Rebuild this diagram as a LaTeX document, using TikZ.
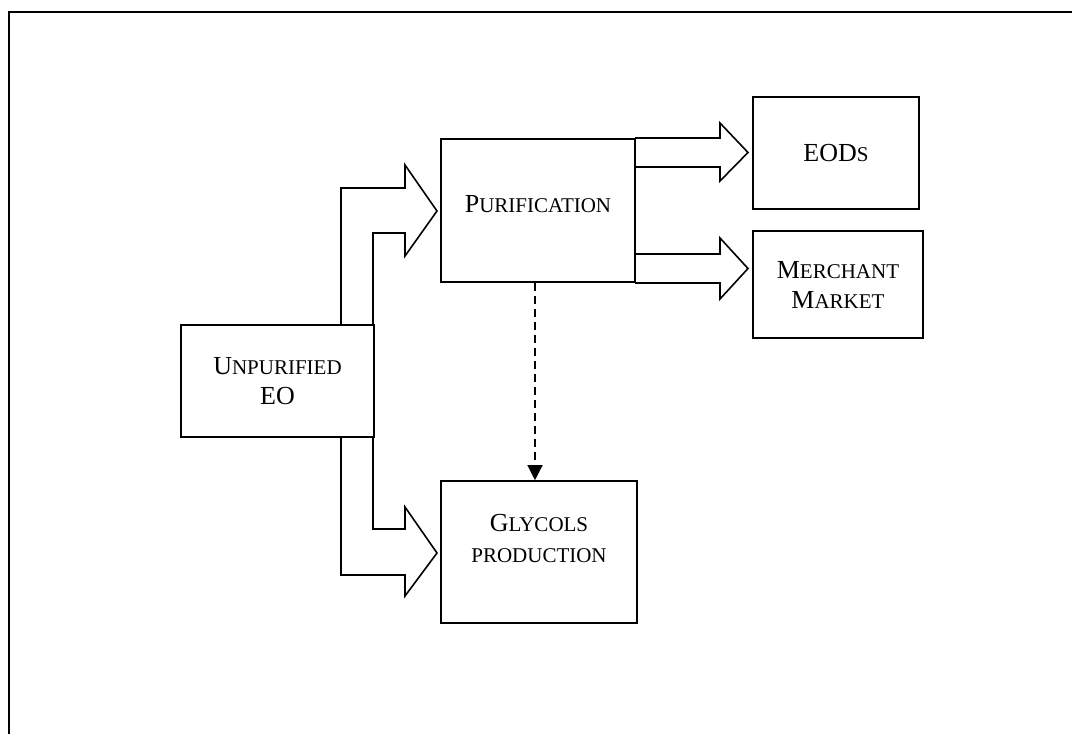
\documentclass[tikz,border=0pt]{standalone}
\usepackage{fontspec}
\setmainfont{Liberation Serif}
\usetikzlibrary{arrows.meta}
% fake small caps: first letters large, the rest smaller
\newcommand{\bigsc}[2]{#1{\fontsize{21}{25}\selectfont #2}}
\tikzset{
  stagebox/.style={draw, line width=1.6pt, inner sep=0pt, align=center,
    font=\fontsize{26}{30}\selectfont},
  stagetext/.style={inner sep=0pt, align=center, font=\fontsize{26}{31}\selectfont},
  blockarrow/.style={draw, line width=1.6pt, line join=miter},
}
\begin{document}
\begin{tikzpicture}[x=1pt,y=-1pt]
      \useasboundingbox (0,0) rectangle (1072,734);
      \draw[line width=2pt] (9,734) -- (9,12) -- (1072,12);
      \node[stagebox, minimum width=193, minimum height=112] (unpur) at (277.5,381)
        {\bigsc{U}{NPURIFIED}\\EO};
      \node[stagebox, minimum width=194, minimum height=143] (purif) at (538,210.5) {};
      \node[stagetext] (puriftext) at (538,204.5) {\bigsc{P}{URIFICATION}};
      \node[stagebox, minimum width=166, minimum height=112] (eods) at (836,153)
        {\bigsc{EOD}{S}};
      \node[stagebox, minimum width=170, minimum height=107] (merch) at (838,284.5)
        {\bigsc{M}{ERCHANT}\\\bigsc{M}{ARKET}};
      \node[stagebox, minimum width=196, minimum height=142] (glyc) at (539,552) {};
      \node[stagetext] (glyctext) at (539,538)
        {\bigsc{G}{LYCOLS}\\\bigsc{}{PRODUCTION}};
      \begin{scope}[blockarrow]
        % unpurified EO to purification
        \draw (341,325) -- (341,188) -- (405,188) -- (405,165) -- (437,211)
          -- (405,256) -- (405,233) -- (373,233) -- (373,325);
        % unpurified EO to glycols
        \draw (341,437) -- (341,575) -- (405,575) -- (405,596) -- (437,553)
          -- (405,507) -- (405,529) -- (373,529) -- (373,437);
        % purification to EODs
        \draw (635,138) -- (720,138) -- (720,123) -- (748,152.5) -- (720,181)
          -- (720,167) -- (635,167);
        % purification to merchant market
        \draw (635,254) -- (720,254) -- (720,238) -- (748,268.5) -- (720,299)
          -- (720,283) -- (635,283);
      \end{scope}
      \draw[line width=1.3pt, dash pattern=on 8pt off 5pt,
        -{Triangle[length=15pt,width=15pt]}]
        (purif.south -| 535,0) -- (glyc.north -| 535,0);
    \end{tikzpicture}
\end{document}
